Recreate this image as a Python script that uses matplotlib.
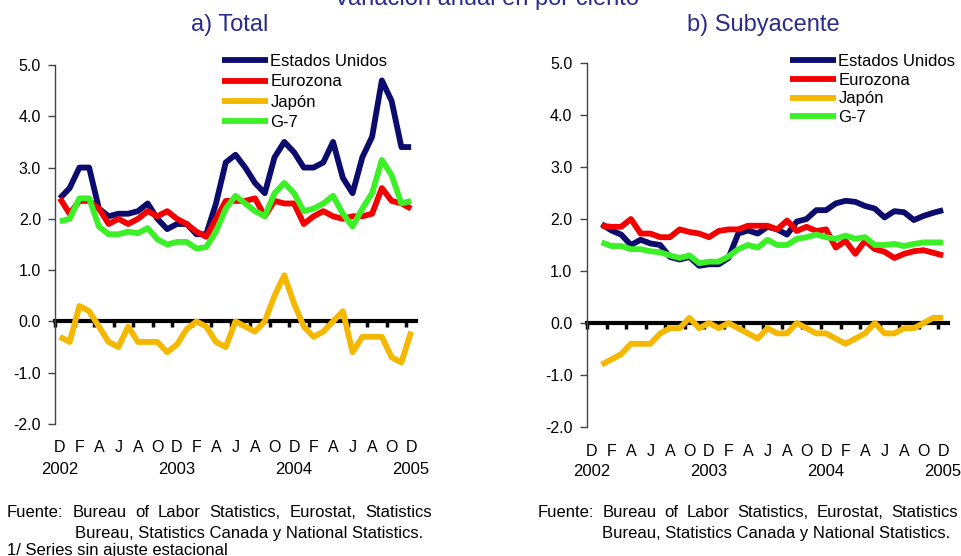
import matplotlib
matplotlib.use("Agg")
import matplotlib.pyplot as plt
import numpy as np
from matplotlib.ticker import FormatStrFormatter
from matplotlib.transforms import offset_copy

plt.rcParams['font.family'] = ['Liberation Sans', 'DejaVu Sans']

W, H = 961, 556

# categories: Dec 2002 .. Dec 2005 (37 months), labels every 2 months
month_labels = ["D", "F", "A", "J", "A", "O"] * 3 + ["D"]
year_labels = ["2002", "2003", "2004", "2005"]
series_names = ["Estados Unidos", "Eurozona", "Japón", "G-7"]
colors = ["#0c0c6e", "#f50000", "#f5b800", "#3cf028"]

# a) Total, Dec 2002 - Dec 2005
total_us = [2.4, 2.6, 3.0, 3.0, 2.2, 2.05, 2.1, 2.1, 2.15, 2.3,
            2.0, 1.8, 1.9, 1.9, 1.7, 1.7, 2.3, 3.1, 3.25, 3.0,
            2.7, 2.5, 3.2, 3.5, 3.3, 3.0, 3.0, 3.1, 3.5, 2.8,
            2.5, 3.2, 3.6, 4.7, 4.3, 3.4, 3.4]
total_euro = [2.4, 2.1, 2.35, 2.35, 2.2, 1.9, 2.0, 1.9, 2.0, 2.15,
              2.05, 2.15, 2.0, 1.9, 1.75, 1.65, 2.0, 2.35, 2.35, 2.35,
              2.4, 2.05, 2.35, 2.3, 2.3, 1.9, 2.05, 2.15, 2.05, 2.0,
              2.05, 2.05, 2.1, 2.6, 2.35, 2.3, 2.2]
total_jp = [-0.3, -0.4, 0.3, 0.2, -0.1, -0.4, -0.5, -0.1, -0.4, -0.4,
            -0.4, -0.6, -0.45, -0.15, 0.0, -0.1, -0.4, -0.5, 0.0, -0.1,
            -0.2, 0.0, 0.5, 0.9, 0.35, -0.1, -0.3, -0.2, 0.0, 0.2,
            -0.6, -0.3, -0.3, -0.3, -0.7, -0.8, -0.2]
total_g7 = [1.95, 2.0, 2.4, 2.4, 1.85, 1.7, 1.7, 1.75, 1.72, 1.82,
            1.6, 1.5, 1.55, 1.55, 1.42, 1.45, 1.75, 2.2, 2.45, 2.3,
            2.15, 2.05, 2.5, 2.7, 2.5, 2.15, 2.2, 2.3, 2.45, 2.1,
            1.85, 2.2, 2.5, 3.15, 2.85, 2.3, 2.35]

# b) Subyacente, Jan 2003 - Dec 2005
core_us = [1.9, 1.78, 1.7, 1.5, 1.6, 1.53, 1.5, 1.27, 1.22, 1.27,
           1.1, 1.13, 1.13, 1.25, 1.72, 1.78, 1.72, 1.85, 1.8, 1.7,
           1.95, 2.0, 2.17, 2.17, 2.3, 2.35, 2.33, 2.25, 2.2, 2.03,
           2.15, 2.13, 1.98, 2.06, 2.12, 2.17]
core_euro = [1.87, 1.85, 1.85, 2.0, 1.72, 1.72, 1.65, 1.65, 1.8, 1.75,
             1.72, 1.65, 1.77, 1.8, 1.8, 1.87, 1.87, 1.87, 1.8, 1.97,
             1.77, 1.85, 1.77, 1.8, 1.45, 1.58, 1.33, 1.58, 1.42, 1.37,
             1.25, 1.33, 1.38, 1.4, 1.35, 1.3]
core_jp = [-0.8, -0.7, -0.6, -0.4, -0.4, -0.4, -0.2, -0.1, -0.1, 0.1,
           -0.1, 0.0, -0.1, 0.0, -0.1, -0.2, -0.3, -0.1, -0.2, -0.2,
           0.0, -0.1, -0.2, -0.2, -0.3, -0.4, -0.3, -0.2, 0.0, -0.2,
           -0.2, -0.1, -0.1, 0.0, 0.1, 0.1]
core_g7 = [1.55, 1.48, 1.48, 1.42, 1.42, 1.38, 1.36, 1.3, 1.25, 1.3,
           1.15, 1.18, 1.18, 1.28, 1.42, 1.5, 1.45, 1.6, 1.5, 1.5,
           1.62, 1.65, 1.7, 1.65, 1.62, 1.68, 1.62, 1.65, 1.5, 1.5,
           1.52, 1.48, 1.52, 1.55, 1.55, 1.55]

fig = plt.figure(figsize=(W / 100, H / 100), dpi=100)
ax1 = fig.add_axes([55 / W, 1 - 424 / H, 361 / W, 359 / H])
ax2 = fig.add_axes([587 / W, 1 - 427 / H, 361 / W, 364 / H])

title_col = "#2b2b8c"


def setup(ax, pad):
    ax.set_xlim(-0.5, 36.5)
    ax.set_ylim(-2, 5)
    ax.set_yticks(np.arange(-2, 6))
    ax.yaxis.set_major_formatter(FormatStrFormatter('%.1f'))
    for s in ['top', 'right']:
        ax.spines[s].set_visible(False)
    ax.spines['left'].set_color('#444444')
    ax.spines['left'].set_linewidth(1.0)
    ax.spines['bottom'].set_position(('data', 0))
    ax.spines['bottom'].set_linewidth(3)
    ax.spines['bottom'].set_color('black')
    ax.spines['bottom'].set_zorder(1)
    ax.set_xticks(np.arange(-0.5, 36, 2))
    ax.tick_params(axis='x', direction='out', length=4, width=2.5,
                   color='black', labelbottom=False)
    ax.tick_params(axis='y', direction='out', length=5, width=1,
                   color='#444444', labelsize=11.5, pad=pad)
    trans = ax.get_xaxis_transform()
    t_m = offset_copy(trans, fig=fig, y=-24, units='dots')
    t_y = offset_copy(trans, fig=fig, y=-45, units='dots')
    for i, lab in enumerate(month_labels):
        ax.text(2 * i, 0, lab, transform=t_m, ha='center', va='center',
                fontsize=11.5, clip_on=False)
    for i, lab in enumerate(year_labels):
        ax.text(12 * i, 0, lab, transform=t_y, ha='center', va='center',
                fontsize=12, clip_on=False)


setup(ax1, 5)
setup(ax2, 5.5)

x_total = np.arange(len(total_us))
x_core = np.arange(1, len(core_us) + 1)

for ax, xs, data in [(ax1, x_total, [total_us, total_euro, total_jp, total_g7]),
                     (ax2, x_core, [core_us, core_euro, core_jp, core_g7])]:
    for vals, name, c in zip(data, series_names, colors):
        ax.plot(xs, vals, color=c, lw=4.2, label=name, zorder=3,
                solid_joinstyle='round', solid_capstyle='butt', clip_on=False)

for ax, lx, sp in [(ax1, 222, 0.32), (ax2, 790, 0.22)]:
    ax.legend(loc='upper left', bbox_to_anchor=(lx / W, 1 - 54 / H),
              bbox_transform=fig.transFigure, frameon=False, borderpad=0,
              borderaxespad=0, handlelength=2.75, handletextpad=0.15,
              labelspacing=sp, fontsize=12)

fig.text(486 / W, 1 - 5 / H, "Variación anual en por ciento", ha='center',
         va='baseline', fontsize=17, color=title_col)
fig.text(230 / W, 1 - 31 / H, "a) Total", ha='center', va='baseline',
         fontsize=17, color=title_col)
fig.text(763 / W, 1 - 31 / H, "b) Subyacente", ha='center', va='baseline',
         fontsize=17, color=title_col)

renderer = fig.canvas.get_renderer()


def justify(words, x0, x1, yb):
    texts = [fig.text(0, 1 - yb / H, w, va='baseline', fontsize=12) for w in words]
    widths = [t.get_window_extent(renderer).width for t in texts]
    gap = (x1 - x0 - sum(widths)) / (len(words) - 1)
    x = x0
    for t, w in zip(texts, widths):
        t.set_x(x / W)
        x += w + gap


src1 = ["Fuente:", "Bureau", "of", "Labor", "Statistics,", "Eurostat,", "Statistics"]
src2 = "Bureau, Statistics Canada y National Statistics."
justify(src1, 7, 432, 517)
fig.text(75 / W, 1 - 538 / H, src2, va='baseline', fontsize=12)
fig.text(7 / W, 1 - 555 / H, "1/ Series sin ajuste estacional", va='baseline', fontsize=12)
justify(src1, 538, 958, 517)
fig.text(602 / W, 1 - 538 / H, src2, va='baseline', fontsize=12)

fig.savefig('out.png', dpi=100)
